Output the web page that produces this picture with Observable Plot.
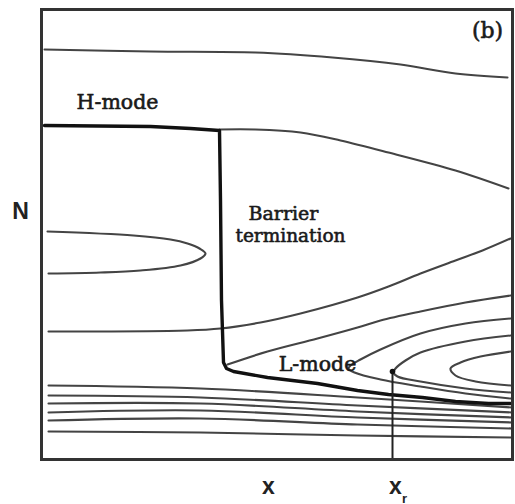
<!DOCTYPE html>
<html>
<head>
<meta charset="utf-8">
<script src="https://cdn.jsdelivr.net/npm/d3@7"></script>
<script src="https://cdn.jsdelivr.net/npm/@observablehq/plot@0.6"></script>
<style>
  html, body { margin: 0; padding: 0; background: #fff; }
</style>
</head>
<body>
<div id="chart"></div>
<script>
// Curves, as [x, N] in arbitrary units (no ticks on the original)
const topContour = [[0.6,82],[21.8,81.6],[42.8,81.4],[58.2,80.4],[71.8,79],[82.8,77.2],[93.2,76.4]];
const hModeUpper = [[35.6,66],[42.8,66],[51.8,65.4],[59.8,63.8],[69.4,61.4],[82.8,57.8],[93.4,54.2]];
const leftLoop = [[1.2,45.6],[18.4,44.8],[25.8,44],[29.2,43.2],[31.6,42.2],[32.8,41.2],[31.8,40.2],[27.8,38.8],[19.8,37.8],[11.8,37.4],[1.4,37.2]];
const midContour = [[1.4,25.6],[29.2,25.8],[35.8,26.2],[43.8,27.4],[51.8,29.2],[63.2,32.4],[69.4,34.6],[75.8,37.2],[82.8,39.8],[88.2,41.8],[93.8,44.2]];
const cornerContour = [[37.2,19],[45.2,21.6],[55.2,24.2],[63.2,26.4],[67.8,27.8],[75.8,29.6],[84.8,31.4],[93.8,32.8]];
const loopC = [[93.8,28.2],[84.8,27.2],[75.8,25.2],[67.8,22],[63.8,20],[61.8,18.8],[61.4,18.2],[62.6,17.4],[67.8,16],[75.8,14.6],[84.8,13.2],[93.8,12.2]];
const loopD = [[93.8,24.8],[84.8,23.6],[75.8,21.4],[72.8,19.8],[70.8,18.2],[70.4,17.4],[71.2,16.6],[75.8,15.6],[84.8,14.2],[93.8,13.4]];
const loopE = [[93.8,21.6],[87.8,20.6],[83.8,19.4],[81.8,18.2],[82.8,16.8],[86.8,15.6],[93.8,14.8]];
const bundle1 = [[1.4,14.8],[31.8,14.2],[63.2,12.4],[94.2,10.4]];
const bundle2 = [[1.4,12.8],[31.8,12.4],[63.2,10.8],[94.2,9.4]];
const bundle3 = [[1.4,11.2],[31.8,11.2],[63.2,9.6],[94.2,8.4]];
const bundle4 = [[1.4,9.4],[31.8,9.8],[63.2,8.4],[94.2,7.4]];
const bundle5 = [[1.4,7.8],[31.8,8.2],[63.2,7],[94.2,6.2]];
const bundle6 = [[1.4,5.6],[31.8,5.4],[63.2,4.8],[94.2,4.4]];
// Thick trajectory: H-mode -> barrier termination -> L-mode
const trajectory = [[0.6,66.8],[21.8,66.6],[29.8,66.2],[35.6,65.8],[35.8,51.8],[36,31.8],[36.4,19.4],[37,18.2],[38.4,17.6],[45.2,16.4],[55.2,15.2],[63.2,13.8],[69.4,13],[76.2,12.4],[82.8,11.6],[89.4,11.2],[93.8,11.2]];
// x_r marker
const xrPoint = [{x: 70.2, N: 17.6}];
// Labels
const annotations = [
  {text: "(b)", x: 89.2, N: 84.4, size: 22},
  {text: "H-mode", x: 15.2, N: 70.2, size: 20.5},
  {text: "Barrier", x: 48.4, N: 48, size: 19},
  {text: "termination", x: 49.8, N: 43.6, size: 18.5},
  {text: "L-mode", x: 55.2, N: 17.8, size: 20.5}
];
const axisLabels = [
  {text: "N", x: -4.2, N: 48.2, size: 23},
  {text: "x", x: 45.4, N: -6.8, size: 23},
  {text: "x", x: 70.8, N: -6.8, size: 23},
  {text: "r", x: 72.6, N: -8.6, size: 13}
];

const thinCurves = {topContour, hModeUpper, leftLoop, midContour, cornerContour, loopC, loopD, loopE,
  bundle1, bundle2, bundle3, bundle4, bundle5, bundle6};
const thinRows = Object.entries(thinCurves).flatMap(([name, pts]) => pts.map(([x, N]) => ({name, x, N})));
const thickRows = trajectory.map(([x, N]) => ({x, N}));

const chart = Plot.plot({
  width: 515,
  height: 504,
  marginLeft: 41,
  marginRight: 3,
  marginTop: 9,
  marginBottom: 45,
  x: {domain: [0, 94.2], axis: null},
  y: {domain: [0, 90], axis: null},
  marks: [
    Plot.line(thinRows, {x: "x", y: "N", z: "name", curve: "catmull-rom", stroke: "#444", strokeWidth: 2.1}),
    Plot.line(thickRows, {x: "x", y: "N", curve: "linear", stroke: "#111", strokeWidth: 3.4, strokeLinejoin: "round"}),
    Plot.ruleX(xrPoint, {x: "x", y1: 0, y2: "N", stroke: "#222", strokeWidth: 2}),
    Plot.dot(xrPoint, {x: "x", y: "N", r: 2.8, fill: "#111", stroke: null}),
    Plot.text(annotations, {x: "x", y: "N", text: "text", lineAnchor: "bottom", fontSize: d => d.size,
      fontFamily: "'DejaVu Serif', serif", fill: "#1a1a1a", stroke: "#1a1a1a", strokeWidth: 0.6}),
    Plot.text(axisLabels, {x: "x", y: "N", text: "text", lineAnchor: "bottom", fontSize: d => d.size,
      fontFamily: "'Liberation Sans', Arial, sans-serif", fontWeight: "bold", fill: "#222"}),
    Plot.frame({stroke: "#333", strokeWidth: 3})
  ]
});
document.getElementById("chart").appendChild(chart);
</script>
</body>
</html>
